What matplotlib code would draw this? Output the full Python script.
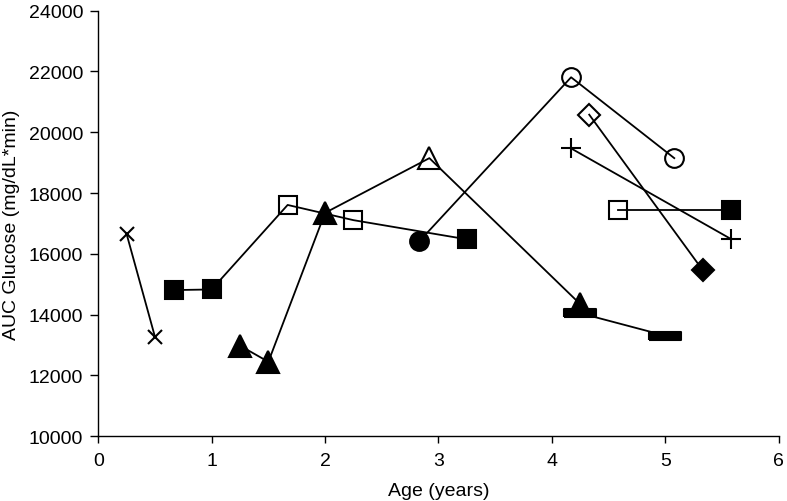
import numpy as np
import matplotlib.pyplot as plt

plt.rcParams['font.family'] = ['Liberation Sans', 'DejaVu Sans']

# each subject: ages, AUC values, marker per point, filled or open per point
age_a = [0.25, 0.5]
auc_a = [16650, 13270]
mk_a = ['x', 'x']
fill_a = [True, True]

age_b = [0.67, 1.0, 1.67, 2.25, 3.25]
auc_b = [14810, 14830, 17610, 17110, 16480]
mk_b = ['s', 's', 's', 's', 's']
fill_b = [True, True, False, False, True]

age_c = [1.25, 1.5, 2.0, 2.92, 4.25]
auc_c = [12980, 12450, 17350, 19150, 14350]
mk_c = ['^', '^', '^', '^', '^']
fill_c = [True, True, True, False, True]

age_d = [2.83, 4.17, 5.08]
auc_d = [16410, 21810, 19150]
mk_d = ['o', 'o', 'o']
fill_d = [True, False, False]

age_e = [4.33, 5.33]
auc_e = [20580, 15470]
mk_e = ['D', 'D']
fill_e = [False, True]

age_f = [4.17, 5.58]
auc_f = [19470, 16490]
mk_f = ['+', '+']
fill_f = [True, True]

age_g = [4.58, 5.58]
auc_g = [17450, 17450]
mk_g = ['s', 's']
fill_g = [False, True]

age_h = [4.25, 5.0]
auc_h = [14050, 13310]
mk_h = ['bar', 'bar']
fill_h = [True, True]

subjects = [
    (age_h, auc_h, mk_h, fill_h),
    (age_a, auc_a, mk_a, fill_a),
    (age_b, auc_b, mk_b, fill_b),
    (age_c, auc_c, mk_c, fill_c),
    (age_d, auc_d, mk_d, fill_d),
    (age_e, auc_e, mk_e, fill_e),
    (age_f, auc_f, mk_f, fill_f),
    (age_g, auc_g, mk_g, fill_g),
]

bar_marker = [(-1, -0.27), (1, -0.27), (1, 0.27), (-1, 0.27), (-1, -0.27)]
sizes = {'x': 9.6, 's': 13, '^': 15.5, 'o': 13.5, 'D': 11.5, '+': 14.5, 'bar': 23.5}

fig = plt.figure(figsize=(7.87, 5.02), dpi=100)
ax = fig.add_axes([0.1249, 0.1289, 0.8644, 0.8478])

for ages, aucs, mks, fills in subjects:
    ax.plot(ages, aucs, color='black', lw=1.3, zorder=2)
    for xv, yv, m, f in zip(ages, aucs, mks, fills):
        marker = bar_marker if m == 'bar' else m
        ax.plot([xv], [yv], linestyle='none', marker=marker, markersize=sizes[m],
                markerfacecolor='black' if f else 'none', markeredgecolor='black',
                markeredgewidth=1.5, zorder=3)

ax.set_xlim(0, 6)
ax.set_ylim(10000, 24000)
ax.set_xticks(np.arange(0, 7, 1))
ax.set_yticks(np.arange(10000, 24001, 2000))
ax.spines['top'].set_visible(False)
ax.spines['right'].set_visible(False)
for s in ['left', 'bottom']:
    ax.spines[s].set_linewidth(1.0)
ax.tick_params(axis='y', direction='out', length=6, width=1, labelsize=14, pad=5)
ax.tick_params(axis='x', direction='out', length=5, width=1, labelsize=14, pad=6)
ax.set_xlabel('Age (years)', fontsize=14, labelpad=10)
ax.set_ylabel('AUC Glucose (mg/dL*min)', fontsize=14, labelpad=6)

fig.savefig('out.png', dpi=100)
